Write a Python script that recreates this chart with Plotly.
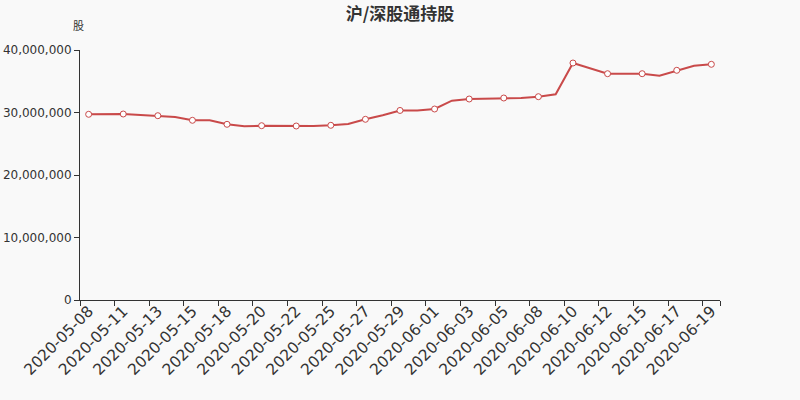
import plotly.graph_objects as go

dates = ["2020-05-08", "2020-05-10", "2020-05-11", "2020-05-12", "2020-05-13", "2020-05-14",
         "2020-05-15", "2020-05-17", "2020-05-18", "2020-05-19", "2020-05-20", "2020-05-21",
         "2020-05-22", "2020-05-24", "2020-05-25", "2020-05-26", "2020-05-27", "2020-05-28",
         "2020-05-29", "2020-05-31", "2020-06-01", "2020-06-02", "2020-06-03", "2020-06-04",
         "2020-06-05", "2020-06-07", "2020-06-08", "2020-06-09", "2020-06-10", "2020-06-11",
         "2020-06-12", "2020-06-14", "2020-06-15", "2020-06-16", "2020-06-17", "2020-06-18",
         "2020-06-19"]
holdings = [29710000, 29710000, 29760000, 29600000, 29490000, 29280000,
            28750000, 28750000, 28110000, 27790000, 27890000, 27840000,
            27840000, 27840000, 27950000, 28160000, 28910000, 29550000,
            30330000, 30330000, 30560000, 31890000, 32160000, 32210000,
            32320000, 32320000, 32530000, 32910000, 37920000, 37120000,
            36210000, 36210000, 36210000, 35890000, 36750000, 37490000,
            37710000]
y_ticks = [0, 10000000, 20000000, 30000000, 40000000]
y_tick_text = ["0", "10,000,000", "20,000,000", "30,000,000", "40,000,000"]

line_color = "#c94a4a"
marker_sizes = [6 if i % 2 == 0 else 0 for i in range(len(dates))]

fig = go.Figure()
fig.add_trace(go.Scatter(
    x=dates, y=holdings, mode="lines+markers",
    line=dict(color=line_color, width=2),
    marker=dict(size=marker_sizes, color="#ffffff", opacity=1,
                line=dict(color=line_color, width=1)),
    hoverinfo="x+y",
))

fig.update_layout(
    width=800, height=400,
    paper_bgcolor="#f9f9f9", plot_bgcolor="#f9f9f9",
    margin=dict(l=80, r=80, t=50, b=100, autoexpand=False),
    showlegend=False,
    font=dict(family="DejaVu Sans", color="#333333"),
    title=dict(text="<b>沪/深股通持股</b>", x=0.5, xanchor="center",
               y=1 - 14 / 400, yanchor="middle",
               font=dict(size=17, family="Noto Sans CJK SC", color="#333333")),
    xaxis=dict(
        type="category", range=[-0.5, len(dates) - 0.5], automargin=False,
        tickmode="array", tickvals=dates[::2], ticktext=dates[::2],
        tickson="boundaries", ticks="outside", ticklen=5, tickcolor="#333333",
        tickangle=-45, tickfont=dict(size=15.5, color="#333333"),
        ticklabelstandoff=-5,
        showline=True, linecolor="#333333", linewidth=1,
        showgrid=False, zeroline=False,
    ),
    yaxis=dict(
        range=[0, 40000000], tickmode="array", tickvals=y_ticks, ticktext=y_tick_text,
        automargin=False,
        ticks="outside", ticklen=5, tickcolor="#333333",
        tickfont=dict(size=12, color="#333333"),
        showline=True, linecolor="#333333", linewidth=1,
        showgrid=False, zeroline=False,
    ),
    annotations=[dict(text="股", xref="paper", yref="paper", x=0, y=1, xshift=-2, yshift=15,
                      xanchor="center", yanchor="bottom", showarrow=False,
                      font=dict(size=11, family="Noto Sans CJK SC", color="#333333"))],
)

fig.write_html("out.html", config={"displayModeBar": False},
               post_script="document.body.style.margin='0';")
